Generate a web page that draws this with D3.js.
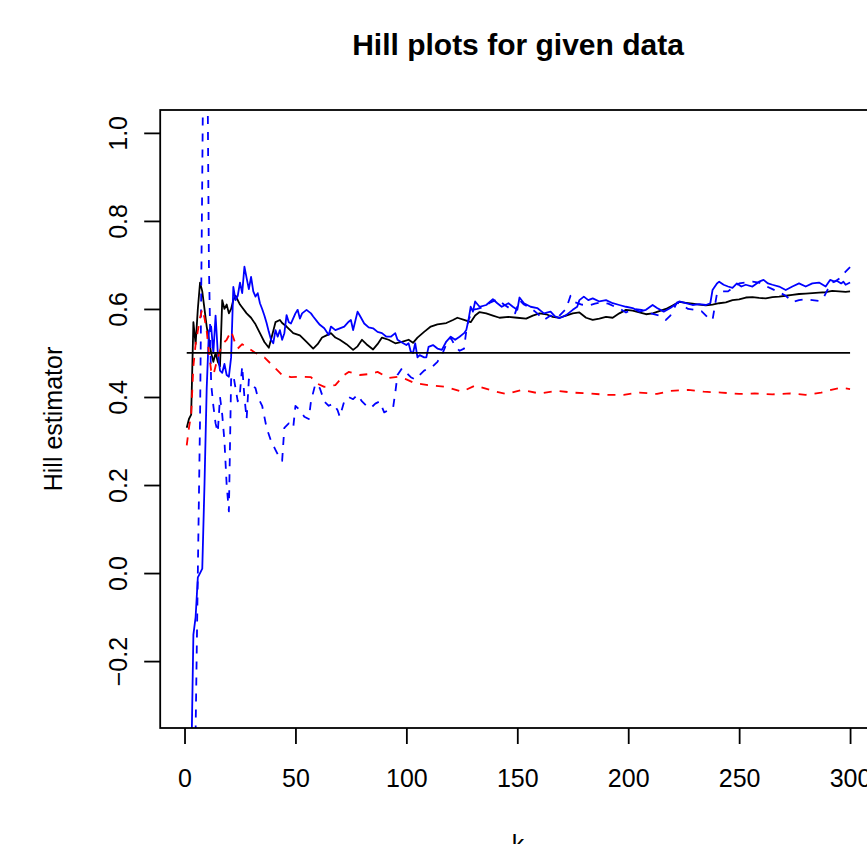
<!DOCTYPE html>
<html>
<head>
<meta charset="utf-8">
<script src="https://cdn.jsdelivr.net/npm/d3@7"></script>
<style>
  body { margin: 0; background: #fff; overflow: hidden; }
  svg { display: block; font-family: "Liberation Sans", Arial, sans-serif; }
</style>
</head>
<body>
<svg id="chart"></svg>
<script>
// ---- data ----
let xTicks = [0, 50, 100, 150, 200, 250, 300];
let yTicks = [-0.2, 0.0, 0.2, 0.4, 0.6, 0.8, 1.0];
let refLevel = 0.5;
let refK = [1, 300];

// black solid line (Hill estimator)
let blackK = [1, 2, 3, 4, 5, 6, 7, 8, 9, 10, 11, 12, 13, 14, 15, 16, 17, 18, 19, 20, 21, 22, 23, 25, 28, 30, 32, 34, 36, 38,
  40, 41, 43, 44, 46, 49, 52, 55, 58, 60, 62, 64, 66, 68, 70, 73, 76, 78, 80, 82, 85, 87, 89, 92, 95, 98, 101, 103, 105,
  108, 111, 114, 118, 121, 123, 126, 129, 131, 133, 136, 139, 142, 146, 150, 154, 157, 160, 163, 166, 169, 172, 175, 178,
  181, 184, 187, 190, 193, 196, 199, 202, 205, 208, 211, 214, 217, 220, 223, 226, 229, 232, 235, 238, 241, 244, 247, 250,
  253, 256, 259, 262, 265, 268, 271, 274, 277, 280, 283, 286, 289, 292, 295, 298, 300];
let blackV = [0.33, 0.35, 0.36, 0.57, 0.52, 0.6, 0.66, 0.64, 0.6, 0.56, 0.53, 0.5, 0.48, 0.5, 0.48, 0.47, 0.62, 0.6, 0.61, 0.59, 0.6, 0.62, 0.63, 0.61, 0.59, 0.58, 0.565, 0.545, 0.525, 0.512,
  0.55, 0.57, 0.575, 0.568, 0.56, 0.545, 0.54, 0.525, 0.51, 0.52, 0.535, 0.54, 0.545, 0.535, 0.53, 0.52, 0.507, 0.515, 0.53, 0.52, 0.508, 0.52, 0.535, 0.53, 0.522, 0.525, 0.53, 0.523, 0.535,
  0.548, 0.56, 0.565, 0.568, 0.575, 0.58, 0.575, 0.57, 0.585, 0.593, 0.59, 0.585, 0.58, 0.582, 0.58, 0.578, 0.585, 0.59, 0.588, 0.582, 0.58, 0.585, 0.59, 0.592,
  0.58, 0.575, 0.578, 0.582, 0.58, 0.59, 0.598, 0.596, 0.592, 0.588, 0.59, 0.595, 0.6, 0.608, 0.616, 0.614, 0.612, 0.61, 0.608, 0.61, 0.613, 0.615, 0.62, 0.622,
  0.626, 0.627, 0.625, 0.624, 0.627, 0.628, 0.63, 0.632, 0.634, 0.635, 0.636, 0.637, 0.638, 0.641, 0.64, 0.639, 0.64];

// red dashed line
let redK = [1, 2, 3, 4, 5, 6, 7, 8, 9, 10, 11, 12, 13, 14, 15, 17, 19, 21, 23, 24, 26, 29, 32, 36, 40, 44, 48, 52, 57, 60, 63, 68,
  72, 74, 79, 83, 87, 92, 96, 100, 104, 110, 118, 125, 131, 139, 145, 152, 160, 168, 175, 183, 190, 198, 205, 213, 219,
  227, 234, 242, 250, 257, 265, 273, 280, 287, 293, 296, 300];
let redV = [0.29, 0.33, 0.36, 0.47, 0.52, 0.55, 0.58, 0.6, 0.58, 0.55, 0.5, 0.46, 0.45, 0.47, 0.49, 0.52, 0.53, 0.55, 0.52, 0.51, 0.52, 0.51, 0.5, 0.49, 0.47, 0.45, 0.445, 0.446, 0.445, 0.43, 0.423, 0.427,
  0.45, 0.457, 0.45, 0.452, 0.457, 0.443, 0.446, 0.44, 0.431, 0.427, 0.423, 0.412, 0.426, 0.414, 0.407, 0.416, 0.408, 0.414, 0.41, 0.408, 0.405, 0.405, 0.41, 0.407, 0.414,
  0.416, 0.412, 0.41, 0.407, 0.408, 0.406, 0.408, 0.405, 0.41, 0.418, 0.421, 0.418];

// blue solid line
let blueK = [3, 4, 5, 6, 7, 8, 9, 10, 11, 12, 13, 14, 15, 16, 17, 18, 19, 20, 21, 22, 23, 24, 25, 26, 27, 28, 29, 30, 31, 32, 33, 34,
  35, 36, 37, 38, 39, 40, 41, 42, 43, 44, 45, 46, 47, 48, 50, 51, 52, 53, 55, 57, 58, 60, 61, 63, 65, 66, 68, 70, 72, 74, 75,
  76, 78, 79, 81, 83, 85, 87, 89, 91, 93, 95, 96, 98, 100, 101, 102, 103, 104, 105, 106, 108, 109, 110, 112, 114, 116, 118,
  120, 122, 124, 126, 127, 128, 129, 130, 131, 133, 136, 139, 141, 143, 146, 148, 150, 151, 153, 156, 159, 162, 165, 167, 169,
  172, 175, 177, 178, 180, 182, 184, 187, 190, 193, 196, 199, 202, 205, 208, 211, 213, 216, 219, 222, 223, 226, 229, 232, 235,
  237, 238, 240, 241, 243, 245, 247, 249, 251, 253, 256, 259, 261, 263, 265, 268, 271, 274, 277, 280, 283, 286, 289, 291, 293,
  294, 296, 297, 298, 300];
let blueV = [-0.45, -0.14, -0.1, -0.01, 0.0, 0.01, 0.2, 0.42, 0.55, 0.56, 0.5, 0.585, 0.5, 0.46, 0.455, 0.475, 0.45, 0.446, 0.49, 0.65, 0.62, 0.63, 0.66, 0.636, 0.696, 0.67, 0.645, 0.673, 0.64, 0.628, 0.636, 0.613,
  0.6, 0.585, 0.568, 0.548, 0.53, 0.522, 0.552, 0.537, 0.552, 0.53, 0.545, 0.586, 0.57, 0.567, 0.59, 0.598, 0.578, 0.59, 0.598, 0.59, 0.583, 0.57, 0.564, 0.556, 0.541, 0.56, 0.552, 0.556, 0.56, 0.571, 0.575,
  0.552, 0.594, 0.585, 0.567, 0.558, 0.556, 0.548, 0.545, 0.537, 0.537, 0.545, 0.53, 0.524, 0.518, 0.522, 0.503, 0.5, 0.522, 0.49, 0.495, 0.49, 0.49, 0.514, 0.518, 0.51, 0.507, 0.526,
  0.537, 0.53, 0.537, 0.545, 0.552, 0.575, 0.605, 0.594, 0.617, 0.605, 0.609, 0.622, 0.613, 0.605, 0.613, 0.605, 0.598, 0.626, 0.613, 0.605, 0.602, 0.59, 0.594, 0.583, 0.579,
  0.586, 0.598, 0.605, 0.62, 0.628, 0.62, 0.624, 0.617, 0.62, 0.613, 0.609, 0.605, 0.602, 0.594, 0.598, 0.609, 0.602, 0.594, 0.602, 0.613, 0.617, 0.613, 0.609, 0.611, 0.609,
  0.613, 0.643, 0.658, 0.662, 0.655, 0.651, 0.648, 0.658, 0.651, 0.655, 0.651, 0.662, 0.666, 0.658, 0.655, 0.651, 0.643, 0.651, 0.658, 0.651, 0.658, 0.66, 0.651, 0.666, 0.662,
  0.664, 0.658, 0.662, 0.655, 0.66];

// blue dashed line
let blueDashK = [1, 2, 3, 4, 5, 6, 7, 8, 9, 10, 11, 12, 13, 14, 15, 16, 17, 18, 19, 20, 21, 22, 23, 24, 25, 26, 27, 28, 29, 30, 32, 33,
  35, 37, 39, 41, 43, 44, 45, 47, 49, 50, 52, 54, 56, 57, 59, 61, 63, 65, 67, 69, 70, 72, 74, 76, 78, 80, 82, 84, 86, 88, 90,
  92, 94, 95, 96, 98, 100, 102, 104, 106, 108, 110, 112, 114, 116, 118, 120, 122, 124, 126, 127, 128, 130, 132, 135, 138, 141,
  144, 147, 149, 151, 153, 156, 159, 162, 165, 168, 170, 172, 174, 176, 179, 182, 185, 188, 191, 194, 197, 199, 202, 206, 210,
  214, 217, 219, 222, 224, 227, 230, 233, 236, 238, 240, 242, 245, 248, 250, 253, 256, 259, 262, 265, 268, 271, 274, 277, 280,
  283, 286, 288, 290, 292, 294, 296, 298, 300];
let blueDashV = [-0.8, -0.7, -0.55, -0.45, -0.36, 0.0, 0.35, 0.9, 1.5, 1.4, 0.7, 0.43, 0.38, 0.34, 0.32, 0.4, 0.36, 0.3, 0.2, 0.14, 0.44, 0.45, 0.42, 0.39, 0.41, 0.47, 0.4, 0.35, 0.44, 0.43, 0.42, 0.4,
  0.38, 0.33, 0.3, 0.28, 0.26, 0.255, 0.33, 0.34, 0.33, 0.38, 0.37, 0.355, 0.35, 0.39, 0.43, 0.42, 0.39, 0.38, 0.385, 0.37, 0.355, 0.39, 0.4, 0.395, 0.405, 0.39, 0.38, 0.375, 0.385, 0.39, 0.365,
  0.37, 0.375, 0.41, 0.45, 0.465, 0.455, 0.445, 0.44, 0.45, 0.46, 0.465, 0.47, 0.48, 0.495, 0.52, 0.535, 0.515, 0.505, 0.51, 0.55, 0.575, 0.598, 0.6, 0.605, 0.615, 0.622,
  0.61, 0.6, 0.59, 0.62, 0.61, 0.602, 0.59, 0.575, 0.585, 0.58, 0.59, 0.6, 0.63, 0.615, 0.61, 0.608, 0.612, 0.615, 0.612, 0.605, 0.598, 0.592, 0.6, 0.598, 0.59,
  0.585, 0.575, 0.585, 0.615, 0.61, 0.6, 0.598, 0.595, 0.58, 0.575, 0.635, 0.64, 0.64, 0.652, 0.658, 0.66, 0.662, 0.66, 0.652, 0.645, 0.638, 0.63, 0.616, 0.62, 0.622,
  0.62, 0.618, 0.625, 0.645, 0.66, 0.665, 0.672, 0.685, 0.695];

// ---- layout ----
let w = 867;
let h = 844;
let plotLeft = 160.2;
let plotRight = 876.6; // plot box runs past the right edge of the window
let plotTop = 110;
let plotBottom = 728;
let lw = 1.8;

let svg = d3.select('#chart').attr('width', w).attr('height', h);

let xSc = d3.scaleLinear().domain([-10.96, 311.96]).range([plotLeft, plotRight]);
let ySc = d3.scaleLinear().domain([-0.352, 1.052]).range([plotBottom, plotTop]);

svg.append('defs').append('clipPath').attr('id', 'plotClip')
   .append('rect')
   .attr('x', plotLeft).attr('y', plotTop)
   .attr('width', plotRight - plotLeft).attr('height', plotBottom - plotTop);

let lineGen = d3.line().x(d => xSc(d[0])).y(d => ySc(d[1]));
let zipUp = (ks, vs) => ks.map((k, i) => [k, vs[i]]);

let plotG = svg.append('g').attr('clip-path', 'url(#plotClip)');

let drawSeries = (ks, vs, color, dash) => {
  plotG.append('path')
       .datum(zipUp(ks, vs))
       .attr('d', lineGen)
       .attr('fill', 'none')
       .attr('stroke', color)
       .attr('stroke-width', lw)
       .attr('stroke-linejoin', 'round')
       .attr('stroke-dasharray', dash);
}

drawSeries(blackK, blackV, '#000000', null);
drawSeries(blueK, blueV, '#0000ff', null);
drawSeries(blueDashK, blueDashV, '#0000ff', '8,8');
drawSeries(redK, redV, '#ff0000', '8,8');
drawSeries(refK, refK.map(() => refLevel), '#000000', null);

// box
svg.append('rect')
   .attr('x', plotLeft).attr('y', plotTop)
   .attr('width', plotRight - plotLeft).attr('height', plotBottom - plotTop)
   .attr('fill', 'none').attr('stroke', '#000').attr('stroke-width', lw);

// axes
let xAxis = d3.axisBottom(xSc).tickValues(xTicks).tickFormat(d3.format('d')).tickSize(16).tickPadding(25);
let gx = svg.append('g')
   .attr('transform', 'translate(0,' + plotBottom + ')')
   .call(xAxis);

let yAxis = d3.axisLeft(ySc).tickValues(yTicks).tickFormat(d => d3.format('.1f')(d).replace('-', '\u2212')).tickSize(16);
let gy = svg.append('g')
   .attr('transform', 'translate(' + plotLeft + ',0)')
   .call(yAxis);

[gx, gy].forEach(g => {
  g.select('.domain').remove();
  g.selectAll('.tick line').attr('stroke', '#000').attr('stroke-width', lw);
  g.selectAll('.tick text').attr('fill', '#000').style('font-size', '25px')
   .style('font-family', '"Liberation Sans", Arial, sans-serif');
});

gy.selectAll('.tick text')
  .attr('x', null).attr('dy', null)
  .attr('text-anchor', 'middle')
  .attr('transform', 'translate(-33,0) rotate(-90)');

// titles
svg.append('text')
   .attr('x', 518).attr('y', 55)
   .attr('text-anchor', 'middle')
   .style('font-size', '30px').style('font-weight', 'bold')
   .text('Hill plots for given data');

svg.append('text')
   .attr('x', 518).attr('y', 853)
   .attr('text-anchor', 'middle')
   .style('font-size', '25px')
   .text('k');

svg.append('text')
   .attr('transform', 'translate(62,' + ((plotTop + plotBottom) / 2) + ') rotate(-90)')
   .attr('text-anchor', 'middle')
   .style('font-size', '25px')
   .text('Hill estimator');
</script>
</body>
</html>
